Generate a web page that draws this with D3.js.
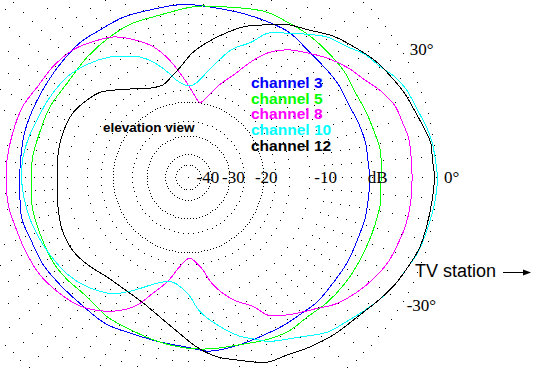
<!DOCTYPE html>
<html>
<head>
<meta charset="utf-8">
<script src="https://cdn.jsdelivr.net/npm/d3@7"></script>
<style>
  body { margin: 0; background: #fff; }
  svg { display: block; }
</style>
</head>
<body>
<div class="canvas"></div>
<script>
// elevation patterns, [angle in degrees ccw from the station direction, dB]
const ch3 = [[0,-5.2],[4,-5.3],[11,-5.3],[18,-5.5],[23,-5.7],[31,-5.7],[37,-5.8],[47,-5.9],[55,-5.7],[63,-5.9],[72,-6.1],[80,-6.2],[89,-6.1],[94,-6.1],[103,-6.2],[112,-6.1],[121,-6.2],[129,-6.1],[140,-6.3],[149,-6.4],[157,-6.4],[165,-6.4],[174,-6.5],[182,-6.5],[194,-6.2],[201,-6.4],[211,-6.4],[220,-6.6],[230,-6.7],[241,-6.5],[251,-6.7],[260,-6.6],[270,-6.3],[277,-5.8],[287,-5.8],[297,-5.8],[303,-5.7],[310,-5.6],[316,-5.4],[325,-5.4],[332,-5.3],[341,-5.3],[347,-5.2],[358,-5.2]];
const ch5 = [[0,-4.2],[8,-4.1],[13,-4.3],[20,-4.5],[27,-4.7],[34,-4.6],[42,-4.7],[50,-4.8],[57,-5.0],[64,-5.1],[69,-5.4],[77,-5.9],[86,-6.2],[90,-6.4],[100,-6.9],[110,-7.0],[119,-7.3],[130,-7.7],[142,-8.1],[153,-7.9],[163,-7.9],[173,-7.7],[182,-7.7],[190,-7.5],[201,-7.5],[213,-7.4],[220,-7.5],[230,-7.7],[240,-7.2],[250,-7.0],[260,-6.6],[270,-6.2],[278,-6.0],[287,-5.8],[296,-5.3],[303,-5.0],[311,-5.0],[318,-4.7],[326,-4.5],[333,-4.4],[340,-4.3],[346,-4.2],[352,-4.1],[358,-4.2]];
const ch8 = [[0,-1.7],[6,-1.7],[10,-1.7],[14,-1.9],[19,-2.1],[24,-2.7],[29,-3.5],[34,-4.1],[40,-5.0],[46,-6.1],[52,-7.2],[57,-8.6],[61,-10.5],[66,-13.4],[71,-15.6],[77,-18.7],[81,-20.0],[83,-19.5],[89,-17.0],[93,-15.2],[99,-12.4],[105,-10.2],[112,-8.6],[118,-7.5],[125,-6.8],[132,-6.2],[141,-5.9],[149,-5.8],[157,-5.4],[166,-5.3],[175,-5.2],[182,-5.2],[189,-5.2],[196,-5.4],[204,-5.5],[213,-5.6],[222,-6.0],[230,-6.5],[239,-7.7],[245,-8.9],[249,-10.1],[253,-11.9],[259,-14.2],[265,-17.1],[271,-18.7],[278,-16.8],[283,-13.6],[290,-10.8],[297,-8.9],[300,-7.4],[306,-6.3],[310,-5.7],[315,-4.9],[319,-4.1],[326,-3.2],[332,-2.6],[337,-2.2],[342,-2.0],[347,-1.8],[353,-1.7]];
const ch10 = [[0,0.1],[4,0.0],[8,-0.1],[12,-0.3],[16,-0.6],[22,-0.9],[26,-1.3],[30,-1.9],[35,-2.4],[39,-3.1],[45,-3.8],[50,-4.8],[55,-5.8],[61,-6.9],[65,-8.6],[71,-10.2],[75,-12.0],[80,-14.3],[85,-16.2],[89,-16.8],[92,-16.6],[97,-15.6],[101,-14.1],[107,-12.1],[112,-10.9],[117,-10.1],[124,-9.1],[132,-8.3],[140,-7.7],[150,-7.4],[159,-7.2],[167,-6.9],[174,-6.7],[182,-6.7],[192,-6.9],[201,-7.2],[209,-7.5],[219,-7.9],[227,-8.5],[237,-9.7],[244,-11.3],[252,-13.2],[259,-14.2],[262,-14.2],[270,-12.6],[275,-10.2],[281,-8.4],[288,-6.6],[293,-5.7],[296,-5.1],[305,-4.0],[312,-2.9],[318,-2.4],[323,-1.9],[328,-1.4],[333,-1.0],[338,-0.7],[342,-0.4],[348,-0.2],[354,0.0],[359,0.1]];
const ch12 = [[0,-0.1],[4,-0.2],[8,-0.2],[12,-0.5],[16,-0.8],[21,-1.1],[26,-1.5],[32,-2.0],[38,-2.7],[44,-3.4],[51,-4.5],[57,-5.2],[62,-6.1],[69,-7.2],[75,-8.5],[82,-10.1],[88,-11.6],[94,-13.6],[100,-15.1],[105,-16.0],[112,-15.9],[120,-14.9],[129,-13.3],[136,-11.9],[143,-11.2],[151,-10.6],[161,-10.5],[171,-10.6],[183,-10.7],[193,-10.4],[203,-10.0],[213,-10.0],[221,-10.4],[231,-11.0],[242,-10.9],[250,-10.4],[259,-9.2],[266,-7.9],[273,-6.3],[279,-5.2],[286,-4.4],[293,-3.5],[299,-3.3],[305,-2.9],[313,-2.4],[321,-2.0],[327,-1.5],[333,-1.0],[338,-0.7],[343,-0.4],[348,-0.3],[354,-0.2]];

const channels = ['channel 3', 'channel 5', 'channel 8', 'channel 10', 'channel 12'];
const colors = ['#0000ff', '#00ff00', '#ff00ff', '#00ffff', '#000000'];
const series = [ch3, ch5, ch8, ch10, ch12];

// grid rings (dB) and labels
const sparseRings = [-1, -2, -3, -4, -5, -6, -7, -8, -9, -10, -12, -15, -17.5, -25];
const denseRings = [-20, -30, -40, -50];
const dbTicks = [-40, -30, -20, -10];
const dbTickLabels = ['-40', '-30', '-20', '-10'];
const angleTicks = [30, 0, -30];
const angleTickLabels = ['30°', '0°', '-30°'];

const width = 536, height = 368;
const cx = 188, cy = 177;

const svg = d3.select('.canvas')
  .append('svg')
  .attr('width', width)
  .attr('height', height);

svg.append('rect').attr('width', width).attr('height', height).attr('fill', '#fff');

// radius is a power of the field amplitude
const r = d3.scalePow().exponent(0.518).domain([0, 1]).range([0, 248]);
const rad = db => r(Math.pow(10, db / 20));

const graph = svg.append('g')
  .attr('transform', `translate(${cx},${cy})`);

// dotted grid
const dots = [[0, 0]];
const ringDots = (db, stepDeg) => {
  const rr = rad(db);
  const n = Math.round(360 / stepDeg);
  for (let i = 0; i < n; i++) {
    const a = i * 2 * Math.PI / n;
    dots.push([Math.round(rr * Math.cos(a)), Math.round(-rr * Math.sin(a))]);
  }
};
ringDots(0, 2.5);
sparseRings.forEach(db => ringDots(db, 5));
denseRings.forEach(db => {
  const n = Math.round(2 * Math.PI * rad(db) / 3);
  ringDots(db, 360 / n);
});

graph.append('g').selectAll('rect')
  .data(dots)
  .enter().append('rect')
    .attr('x', d => d[0])
    .attr('y', d => d[1])
    .attr('width', 1)
    .attr('height', 1)
    .attr('fill', '#000');

// patterns
const line = d3.lineRadial()
  .angle(d => Math.PI / 2 - d[0] * Math.PI / 180)
  .radius(d => rad(d[1]))
  .curve(d3.curveCatmullRomClosed.alpha(0.5));

graph.selectAll('path.pattern')
  .data(series)
  .enter().append('path')
    .attr('class', 'pattern')
    .attr('d', line)
    .attr('fill', 'none')
    .attr('stroke', (d, i) => colors[i])
    .attr('stroke-width', 1)
    .attr('shape-rendering', 'crispEdges');

// dB labels along the axis
const tickNudge = [-3, 4, 3, 1];
graph.selectAll('text.db')
  .data(dbTicks)
  .enter().append('text')
    .attr('class', 'db')
    .attr('x', (d, i) => rad(d) + tickNudge[i])
    .attr('y', 6)
    .attr('text-anchor', 'middle')
    .attr('font-family', '"Liberation Serif", "Times New Roman", serif')
    .attr('font-size', '17px')
    .attr('fill', '#000')
    .text((d, i) => dbTickLabels[i]);

graph.append('text')
  .attr('x', rad(-4.5))
  .attr('y', 6)
  .attr('text-anchor', 'middle')
  .attr('font-family', '"Liberation Serif", "Times New Roman", serif')
  .attr('font-size', '17px')
  .text('dB');

// angle labels outside the 0 dB ring
graph.selectAll('text.ang')
  .data(angleTicks)
  .enter().append('text')
    .attr('class', 'ang')
    .attr('x', d => (rad(0) + 8) * Math.cos(d * Math.PI / 180) + (d < 0 ? -3 : 0))
    .attr('y', d => -(rad(0) + 8) * Math.sin(d * Math.PI / 180) + 6)
    .attr('font-family', '"Liberation Serif", "Times New Roman", serif')
    .attr('font-size', '17px')
    .text((d, i) => angleTickLabels[i]);

// legend
svg.append('g')
  .selectAll('text')
  .data(channels)
  .enter().append('text')
    .attr('x', 251)
    .attr('y', (d, i) => 88 + i * 15.7)
    .attr('font-family', '"Liberation Sans", Arial, sans-serif')
    .attr('font-weight', 'bold')
    .attr('font-size', '15.5px')
    .attr('fill', (d, i) => colors[i])
    .text(d => d);

svg.append('text')
  .attr('x', 103)
  .attr('y', 132)
  .attr('font-family', '"Liberation Sans", Arial, sans-serif')
  .attr('font-weight', 'bold')
  .attr('font-size', '13.5px')
  .text('elevation view');

svg.append('text')
  .attr('x', 415)
  .attr('y', 277)
  .attr('font-family', '"Liberation Sans", Arial, sans-serif')
  .attr('font-size', '18px')
  .text('TV station');

// arrow toward the station
svg.append('line')
  .attr('x1', 503).attr('y1', 272.5)
  .attr('x2', 525).attr('y2', 272.5)
  .attr('stroke', '#000');
svg.append('path')
  .attr('d', 'M523,269.5L531,272.5L523,275.5Z')
  .attr('fill', '#000');
</script>
</body>
</html>
